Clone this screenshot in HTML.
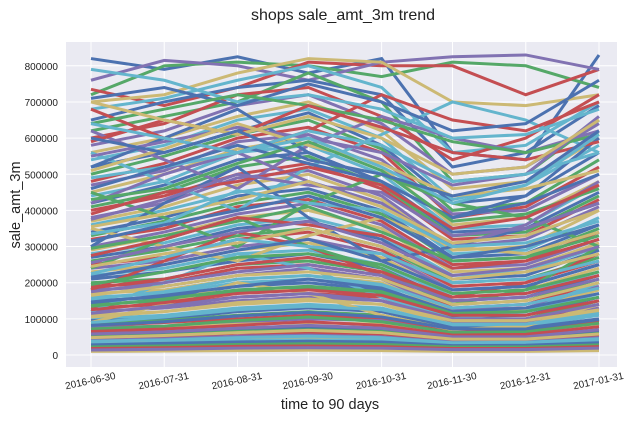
<!DOCTYPE html>
<html><head><meta charset="utf-8"><style>
body{margin:0;background:#fff;font-family:"Liberation Sans",Arial,sans-serif;}
svg text{font-family:"Liberation Sans",Arial,sans-serif;}
</style></head><body>
<svg id="chart" width="632" height="417">
<text x="343" y="20" text-anchor="middle" font-size="16" fill="#222">shops sale_amt_3m trend</text>
<rect x="66" y="42" width="551" height="325" fill="#EAEAF2"/>
<g id="grid"></g><g id="lines"></g><g id="axes"></g>
<text x="330" y="409" text-anchor="middle" font-size="14.5" fill="#222">time to 90 days</text>
<text transform="translate(20,205) rotate(-90)" text-anchor="middle" font-size="14.5" fill="#222">sale_amt_3m</text>
</svg>
<script>
const dates=["2016-06-30","2016-07-31","2016-08-31","2016-09-30","2016-10-31","2016-11-30","2016-12-31","2017-01-31"];
const yTicks=[0,100000,200000,300000,400000,500000,600000,700000,800000];
// values in thousands
const seriesValues=[
[820,790,825,780,820,560,540,830],[720,800,810,800,770,810,800,740],[735,690,740,810,800,800,720,790],
[760,815,800,760,810,825,830,790],[700,720,780,820,810,700,690,720],[680,710,760,800,740,560,580,700],
[650,700,740,760,720,520,560,690],[620,660,700,780,700,480,500,650],[600,640,720,740,660,540,600,720],
[580,620,690,720,640,500,520,640],[560,600,660,700,620,460,480,600],[540,580,650,680,600,430,470,580],
[520,560,620,670,580,420,440,560],[500,550,610,650,570,400,420,540],[480,530,600,630,560,380,410,520],
[470,510,590,610,540,390,400,500],[450,500,570,600,520,360,380,480],[440,480,560,580,500,350,360,470],
[420,470,540,560,480,340,350,450],[410,450,520,550,470,330,340,440],[400,440,500,530,460,320,330,430],
[380,420,490,510,440,300,320,410],[370,410,470,500,430,290,300,400],[360,400,450,480,420,280,290,380],
[340,380,440,460,400,270,280,360],[330,370,420,450,390,260,270,350],[320,350,410,430,370,250,260,340],
[300,340,390,420,360,240,250,320],[290,330,380,400,350,230,240,310],[280,310,360,380,330,220,230,300],
[270,300,350,370,320,210,220,290],[260,290,330,350,300,200,210,270],[250,270,320,340,290,190,200,260],
[240,260,300,320,280,180,190,250],[230,250,290,310,270,170,180,240],[220,240,280,290,250,160,170,230],
[210,230,260,280,240,150,160,220],[200,210,250,260,230,140,150,210],[190,200,240,250,220,130,140,200],
[180,190,220,240,210,125,130,190],[170,180,210,220,200,120,125,180],[160,170,200,210,190,110,120,170],
[150,160,190,200,180,105,110,160],[140,150,175,185,170,100,100,150],[130,140,160,170,160,95,95,140],
[120,130,150,160,150,90,90,130],[110,120,140,150,140,85,85,120],[100,110,130,140,130,80,80,110],
[95,100,120,130,120,75,75,100],[85,95,110,120,110,70,70,95],[80,90,100,110,100,65,65,90],
[75,80,90,100,95,60,60,85],[70,75,85,90,85,55,55,80],[60,65,75,80,75,50,50,70],
[55,60,70,75,70,45,45,65],[50,55,65,70,65,42,42,60],[45,50,60,62,58,40,40,55],
[40,45,52,55,50,36,36,48],[35,40,45,48,45,32,32,42],[30,34,40,42,40,28,28,38],
[25,28,33,35,32,24,24,32],[20,23,27,28,26,20,20,26],[16,18,22,23,21,16,16,21],
[12,14,16,17,16,13,13,16],[10,11,12,13,12,10,10,12],
[560,480,400,520,610,700,650,560],[300,420,520,380,260,300,350,420],[450,380,300,420,500,420,380,300],
[180,260,340,300,220,160,200,280],[620,540,460,580,660,600,560,620],[350,300,260,330,380,300,280,340],
[120,200,280,240,160,100,120,200],[520,600,680,560,480,380,440,600],[240,320,380,300,240,140,180,300],
[680,600,560,620,720,650,620,700],[420,500,560,480,420,300,360,480],[90,140,200,170,110,70,80,140],
[790,760,700,720,680,600,610,680],[710,740,690,750,700,620,640,760],[640,680,720,690,650,590,560,610],
[590,650,610,690,630,560,540,590],[550,590,630,600,560,470,500,660],[510,570,640,580,530,440,460,510],
[490,520,560,600,520,420,470,610],[460,520,580,530,480,380,420,500],[430,460,530,590,510,370,390,460],
[390,450,480,520,470,350,380,470],[375,430,500,470,450,330,350,420],[355,390,430,480,410,310,330,400],
[335,365,455,420,400,300,310,370],[315,360,400,440,380,270,300,360],[295,330,370,410,340,260,270,330],
[275,320,380,360,330,240,260,320],[255,300,340,370,310,220,240,300],[245,280,310,350,300,210,230,280],
[225,270,320,300,280,200,210,260],[215,250,290,320,260,180,190,250],[195,230,270,280,250,170,180,230],
[185,210,250,270,230,160,170,220],[175,200,230,250,220,150,160,210],[165,190,220,230,210,140,150,200],
[155,175,210,220,195,130,140,185],[145,165,190,210,185,120,130,170],[135,155,180,190,175,115,120,160],
[125,145,170,180,165,110,110,150],[115,135,160,170,150,100,100,140],[105,120,145,155,140,95,95,125],
[90,105,125,135,125,85,85,115],[82,92,108,118,105,72,72,98],[72,80,95,105,92,62,64,88],
[65,72,82,92,82,55,57,78],[58,64,74,82,74,50,50,70],[48,54,62,68,62,44,44,58],
[38,42,48,52,48,34,35,45],[28,32,36,38,36,26,27,34],[22,25,29,31,29,22,22,28],
[18,20,24,25,23,18,18,23],[14,16,19,20,19,15,15,19],[700,650,610,660,600,500,520,650],
[640,600,560,620,580,480,500,560],[600,560,620,540,500,440,480,620]
];
const colors=["#4C72B0","#55A868","#C44E52","#8172B2","#CCB974","#64B5CD"];
const X0=66,X1=617,Y0=355,PER100K=36.15;
const t0=Date.parse(dates[0]),t1=Date.parse(dates[7]);
const xs=d=>91+(Date.parse(d)-t0)/(t1-t0)*(599-91);
const ys=v=>Y0-v/100000*PER100K;
const NS="http://www.w3.org/2000/svg";
const grid=document.getElementById('grid'),axes=document.getElementById('axes'),lines=document.getElementById('lines');
yTicks.forEach(v=>{
 const l=document.createElementNS(NS,'line');
 l.setAttribute('x1',X0);l.setAttribute('x2',X1);l.setAttribute('y1',ys(v));l.setAttribute('y2',ys(v));
 l.setAttribute('stroke','#fff');l.setAttribute('stroke-width','1');
 
 
 grid.appendChild(l);
 const t=document.createElementNS(NS,'text');
 t.setAttribute('x',58);t.setAttribute('y',ys(v)+4);t.setAttribute('text-anchor','end');t.setAttribute('font-size','10');t.setAttribute('fill','#222');
 t.textContent=v;
 
 
 axes.appendChild(t);
});
dates.forEach(d=>{
 const x=xs(d);
 const l=document.createElementNS(NS,'line');
 l.setAttribute('x1',x);l.setAttribute('x2',x);l.setAttribute('y1',42);l.setAttribute('y2',367);
 l.setAttribute('stroke','#fff');l.setAttribute('stroke-width','1');
 
 
 grid.appendChild(l);
 const t=document.createElementNS(NS,'text');
 t.setAttribute('transform','translate('+x+',384) rotate(-12)');t.setAttribute('text-anchor','middle');t.setAttribute('font-size','10');t.setAttribute('fill','#222');
 t.textContent=d;
 
 
 axes.appendChild(t);
});
seriesValues.forEach((s,i)=>{
 const p=document.createElementNS(NS,'polyline');
 p.setAttribute('points',s.map((v,j)=>xs(dates[j])+','+ys(v*1000)).join(' '));
 p.setAttribute('fill','none');p.setAttribute('stroke',colors[i%6]);p.setAttribute('stroke-width','3');
 
 
 lines.appendChild(p);
});
</script>
</body></html>
